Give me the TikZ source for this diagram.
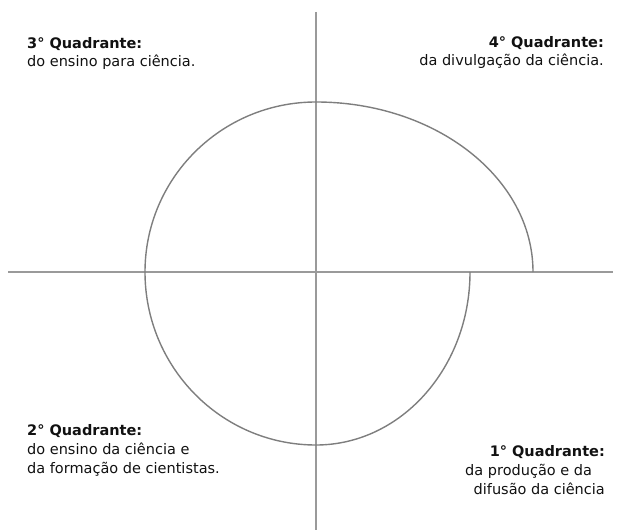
\documentclass[tikz,border=0pt]{standalone}
\usepackage{fontspec}
\setmainfont{DejaVu Sans}
\definecolor{axisgray}{HTML}{9A9A9A}
\definecolor{spiralgray}{HTML}{7E7E7E}
\definecolor{txt}{HTML}{111111}
\begin{document}
\begin{tikzpicture}[x=1bp,y=-1bp,
  axisline/.style={draw=axisgray,line width=1.8bp},
  spiralline/.style={draw=spiralgray,line width=1.4bp},
  lbl/.style={inner sep=0pt,text=txt,font=\fontsize{14.5bp}{18bp}\selectfont},
  lblb/.style={lbl,font=\fontsize{14.5bp}{18bp}\selectfont\bfseries}]
\useasboundingbox (0,0) rectangle (617,530);
\coordinate (top) at (316,12);
\coordinate (bot) at (316,530);
\coordinate (lft) at (8,272);
\coordinate (rgt) at (613,272);
\draw[axisline] (top) -- (bot);
\draw[axisline] (lft) -- (rgt);
\coordinate (s0) at (470,272);
\draw[spiralline] (s0) arc[start angle=0,end angle=90,x radius=154,y radius=173]
  arc[start angle=90,end angle=180,x radius=171,y radius=173]
  arc[start angle=180,end angle=270,x radius=171,y radius=170]
  arc[start angle=270,end angle=360,x radius=217,y radius=170];
% top left
\node[lblb,anchor=base west] (q3a) at (27,49) {3° Quadrante:};
\node[lbl,anchor=base west] (q3b) at (27,67) {do ensino para ciência.};
% top right
\node[lblb,anchor=base east] (q4a) at (604,48) {4° Quadrante:};
\node[lbl,anchor=base east] (q4b) at (604,66) {da divulgação da ciência.};
% bottom left
\node[lblb,anchor=base west] (q2a) at (27,435) {2° Quadrante:};
\node[lbl,anchor=base west] (q2b) at (27,454) {do ensino da ciência e};
\node[lbl,anchor=base west] (q2c) at (27,473) {da formação de cientistas.};
% bottom right
\node[lblb,anchor=base east] (q1a) at (605,456) {1° Quadrante:};
\node[lbl,anchor=base west] (q1b) at (465,475) {da produção e da};
\node[lbl,anchor=base east] (q1c) at (605,494) {difusão da ciência};
\end{tikzpicture}
\end{document}
